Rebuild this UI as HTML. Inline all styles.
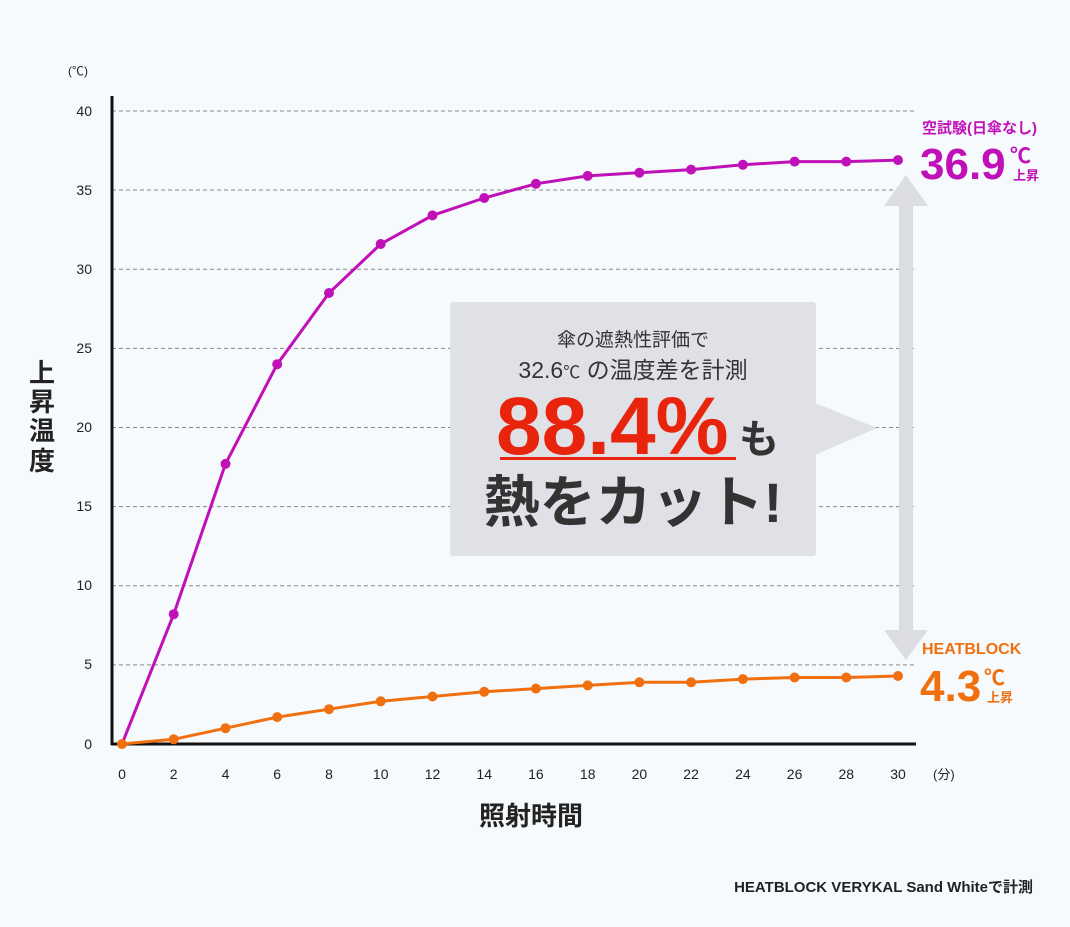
<!DOCTYPE html><html><head><meta charset="utf-8"><style>body{margin:0;background:#f6fafc}svg{display:block}text{font-family:"Liberation Sans","Noto Sans CJK JP",sans-serif}</style></head><body>
<svg width="1070" height="927" viewBox="0 0 1070 927">
<rect width="1070" height="927" fill="#f6fafc"/>
<g stroke="#888" stroke-dasharray="4,3" stroke-width="1">
<line x1="112" x2="915" y1="111" y2="111"/><line x1="112" x2="915" y1="190" y2="190"/><line x1="112" x2="915" y1="269.3" y2="269.3"/><line x1="112" x2="915" y1="348.4" y2="348.4"/><line x1="112" x2="915" y1="427.5" y2="427.5"/><line x1="112" x2="915" y1="506.6" y2="506.6"/><line x1="112" x2="915" y1="585.7" y2="585.7"/><line x1="112" x2="915" y1="664.9" y2="664.9"/>
</g>
<line x1="112" y1="96" x2="112" y2="745" stroke="#111" stroke-width="3"/>
<line x1="111" y1="744" x2="916" y2="744" stroke="#111" stroke-width="3"/>
<g font-size="14" fill="#222" text-anchor="end">
<text x="92" y="116">40</text><text x="92" y="195">35</text><text x="92" y="274">30</text><text x="92" y="353">25</text><text x="92" y="432">20</text><text x="92" y="511">15</text><text x="92" y="590">10</text><text x="92" y="669">5</text><text x="92" y="749">0</text>
</g>
<text x="68" y="75" font-size="12" fill="#222">(℃)</text>
<g font-size="14" fill="#222" text-anchor="middle">
<text x="122" y="779">0</text><text x="173.7" y="779">2</text><text x="225.5" y="779">4</text><text x="277.2" y="779">6</text><text x="329" y="779">8</text><text x="380.7" y="779">10</text><text x="432.5" y="779">12</text><text x="484.2" y="779">14</text><text x="535.9" y="779">16</text><text x="587.7" y="779">18</text><text x="639.4" y="779">20</text><text x="691.1" y="779">22</text><text x="742.9" y="779">24</text><text x="794.6" y="779">26</text><text x="846.3" y="779">28</text><text x="898" y="779">30</text>
</g>
<text x="933" y="779" font-size="13" fill="#222">(分)</text>
<g font-size="26" font-weight="bold" fill="#222" text-anchor="middle"><text x="42" y="382">上</text><text x="42" y="411">昇</text><text x="42" y="440">温</text><text x="42" y="470">度</text></g>
<text x="531" y="825" font-size="26" font-weight="bold" fill="#222" text-anchor="middle">照射時間</text>
<text x="1033" y="892" font-size="15" font-weight="bold" fill="#222" text-anchor="end">HEATBLOCK VERYKAL Sand Whiteで計測</text>
<g fill="#dcdde2"><rect x="899" y="200" width="14" height="440"/><polygon points="906,175 884,206 928,206"/><polygon points="906,660 884,630 928,630"/></g>
<rect x="450" y="302" width="366" height="254" rx="3" fill="#e0e1e6"/>
<polygon points="815,403 877,428 815,455" fill="#e0e1e6"/>
<text x="633" y="346" font-size="19" fill="#333" text-anchor="middle">傘の遮熱性評価で</text>
<text x="633" y="378" font-size="23" fill="#333" text-anchor="middle">32.6<tspan font-size="17">℃</tspan> の温度差を計測</text>
<text x="496" y="454" font-size="82" font-weight="bold" fill="#e8250c">88.4%</text>
<text x="739" y="453" font-size="40" font-weight="bold" fill="#333">も</text>
<rect x="500" y="457" width="236" height="3" fill="#e8250c"/>
<text x="633" y="522" font-size="56" font-weight="bold" fill="#333" text-anchor="middle">熱をカット!</text>
<polyline fill="none" stroke="#c010b8" stroke-width="3" points="122,744 173.7,614.2 225.5,463.9 277.2,364.2 329,293 380.7,244 432.5,215.4 484.2,198 535.9,183.8 587.7,175.9 639.4,172.7 691.1,169.6 742.9,164.8 794.6,161.6 846.3,161.6 898,160.1"/>
<g fill="#c010b8"><circle cx="173.7" cy="614.2" r="5"/><circle cx="225.5" cy="463.9" r="5"/><circle cx="277.2" cy="364.2" r="5"/><circle cx="329" cy="293" r="5"/><circle cx="380.7" cy="244" r="5"/><circle cx="432.5" cy="215.4" r="5"/><circle cx="484.2" cy="198" r="5"/><circle cx="535.9" cy="183.8" r="5"/><circle cx="587.7" cy="175.9" r="5"/><circle cx="639.4" cy="172.7" r="5"/><circle cx="691.1" cy="169.6" r="5"/><circle cx="742.9" cy="164.8" r="5"/><circle cx="794.6" cy="161.6" r="5"/><circle cx="846.3" cy="161.6" r="5"/><circle cx="898" cy="160.1" r="5"/></g>
<polyline fill="none" stroke="#f07010" stroke-width="3" points="122,744 173.7,739.3 225.5,728.2 277.2,717.1 329,709.2 380.7,701.3 432.5,696.5 484.2,691.8 535.9,688.6 587.7,685.4 639.4,682.3 691.1,682.3 742.9,679.1 794.6,677.5 846.3,677.5 898,676"/>
<g fill="#f07010"><circle cx="122" cy="744" r="5"/><circle cx="173.7" cy="739.3" r="5"/><circle cx="225.5" cy="728.2" r="5"/><circle cx="277.2" cy="717.1" r="5"/><circle cx="329" cy="709.2" r="5"/><circle cx="380.7" cy="701.3" r="5"/><circle cx="432.5" cy="696.5" r="5"/><circle cx="484.2" cy="691.8" r="5"/><circle cx="535.9" cy="688.6" r="5"/><circle cx="587.7" cy="685.4" r="5"/><circle cx="639.4" cy="682.3" r="5"/><circle cx="691.1" cy="682.3" r="5"/><circle cx="742.9" cy="679.1" r="5"/><circle cx="794.6" cy="677.5" r="5"/><circle cx="846.3" cy="677.5" r="5"/><circle cx="898" cy="676" r="5"/></g>
<text x="922" y="133" font-size="15" font-weight="bold" fill="#c010b8">空試験(日傘なし)</text>
<text x="920" y="179" font-size="44" font-weight="bold" fill="#c010b8">36.9</text>
<text x="1010" y="163" font-size="21" font-weight="bold" fill="#c010b8">℃</text>
<text x="1013" y="180" font-size="13" font-weight="bold" fill="#c010b8">上昇</text>
<text x="922" y="654" font-size="16" font-weight="bold" fill="#f07010">HEATBLOCK</text>
<text x="920" y="701" font-size="44" font-weight="bold" fill="#f07010">4.3</text>
<text x="984" y="685" font-size="21" font-weight="bold" fill="#f07010">℃</text>
<text x="987" y="702" font-size="13" font-weight="bold" fill="#f07010">上昇</text>
</svg></body></html>
